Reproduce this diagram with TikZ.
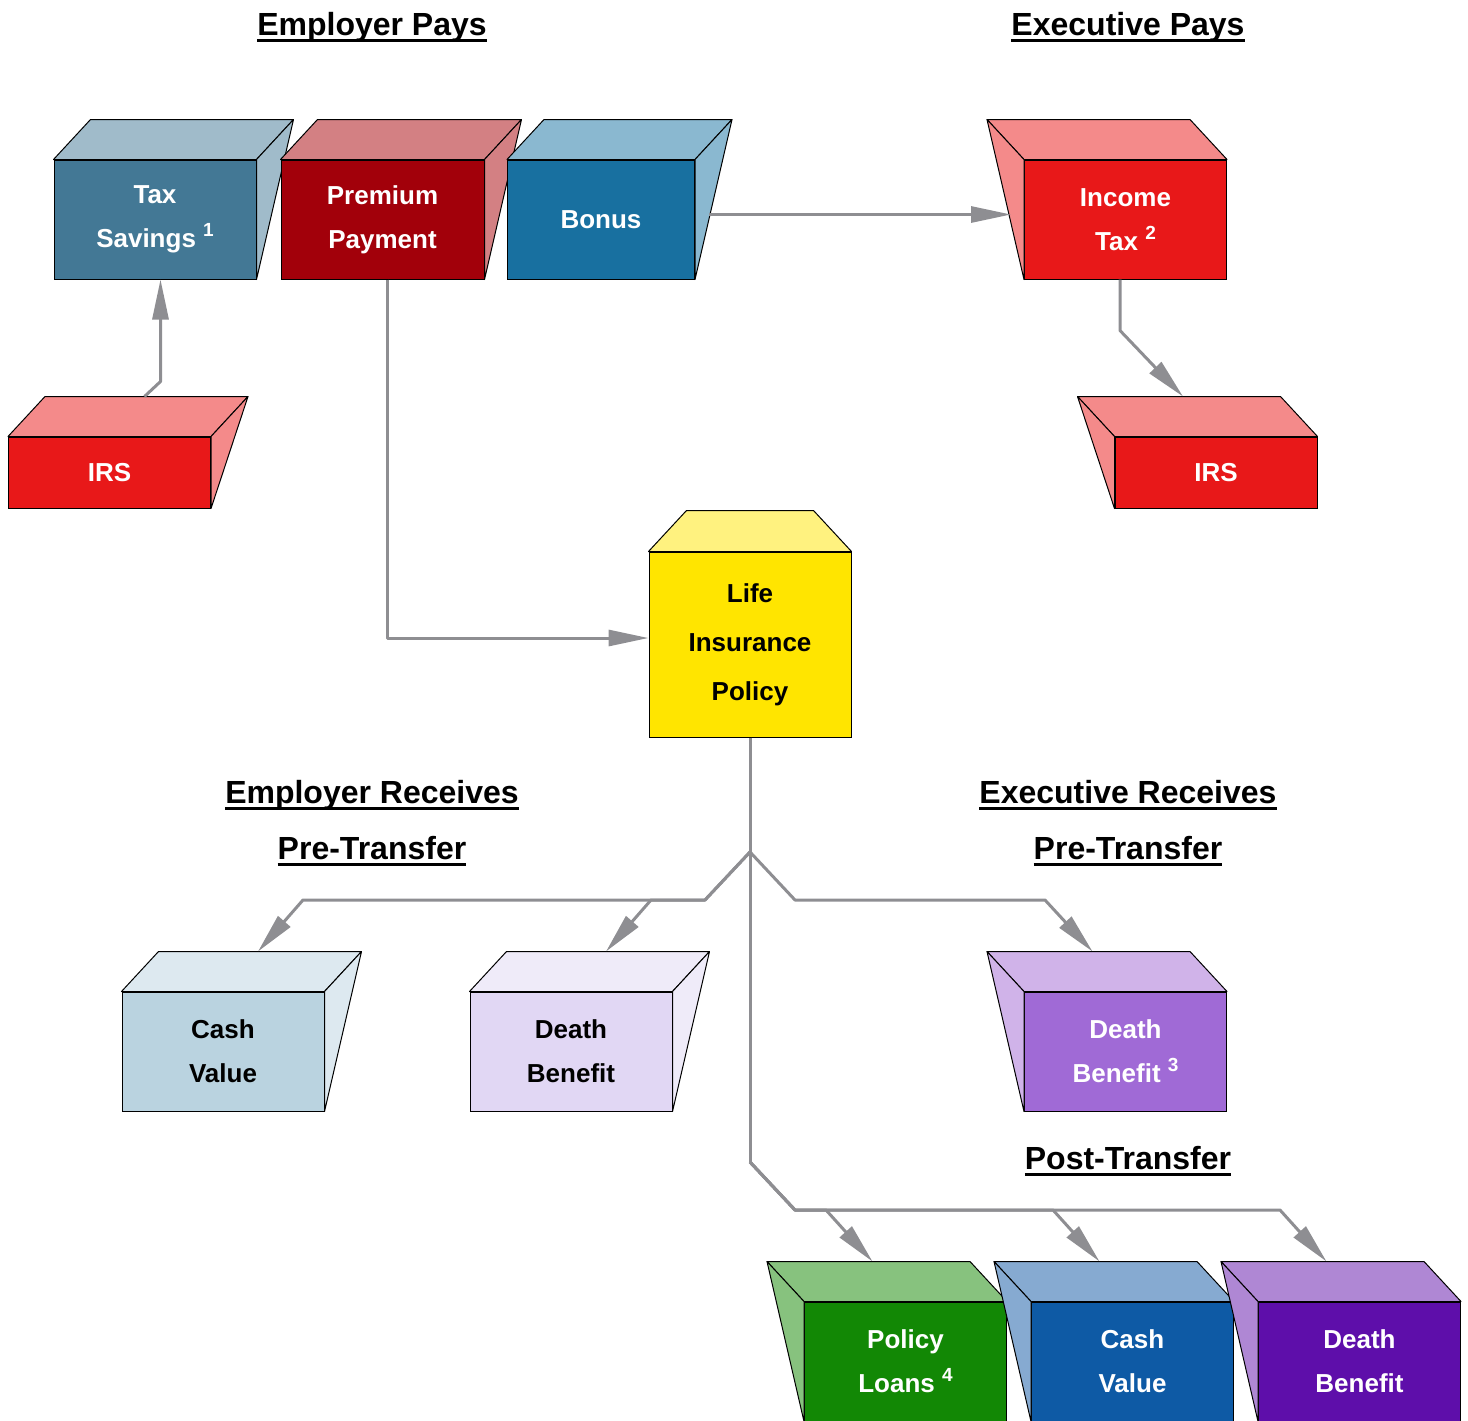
\documentclass[tikz,border=0pt]{standalone}
\usepackage{fontspec}
\setmainfont{Liberation Sans}
\usetikzlibrary{calc, arrows.meta}

\definecolor{linkgray}{HTML}{8E8E92}
\definecolor{tax}{HTML}{437895}   \definecolor{taxtop}{HTML}{A0BBCA}
\definecolor{prem}{HTML}{A2000A}  \definecolor{premtop}{HTML}{D38083}
\definecolor{bonus}{HTML}{1870A0} \definecolor{bonustop}{HTML}{8AB8D0}
\definecolor{irs}{HTML}{E81819}   \definecolor{irstop}{HTML}{F48A8A}
\definecolor{life}{HTML}{FFE500}  \definecolor{lifetop}{HTML}{FFF27F}
\definecolor{cvpre}{HTML}{BAD3E0} \definecolor{cvpretop}{HTML}{DDE9F0}
\definecolor{dbpre}{HTML}{E1D7F4} \definecolor{dbpretop}{HTML}{EFEBF9}
\definecolor{dbexe}{HTML}{A06AD6} \definecolor{dbexetop}{HTML}{D0B3E9}
\definecolor{loan}{HTML}{128805}  \definecolor{loantop}{HTML}{87C27E}
\definecolor{cvpost}{HTML}{0E5AA5} \definecolor{cvposttop}{HTML}{86AAD1}
\definecolor{dbpost}{HTML}{5E0EAA} \definecolor{dbposttop}{HTML}{AF87D4}

\newsavebox\ulbox
\newcommand{\uln}[1]{\sbox\ulbox{#1}\rlap{\rule[-3.2pt]{\wd\ulbox}{1.4pt}}\usebox\ulbox}
\newcommand{\note}[1]{\ \raisebox{5.5pt}{\fontsize{9.5}{9.5}\selectfont #1}}

% block with its depth to the right
\newcommand{\blockR}[5][]{%
  \node[block, fill=#4, #1] (#2) at (#3) {#5};
  \filldraw[face, fill=#4top] (#2.north west) -- ++(37,-40) -- ($(#2.north east)+(37,-40)$) -- (#2.north east) -- cycle;
  \filldraw[face, fill=#4top] (#2.north east) -- ++(37,-40) -- (#2.south east) -- cycle;
  \coordinate (#2-t) at ($(#2.north)+(35,-40)$);
}
% block with its depth to the left
\newcommand{\blockL}[5][]{%
  \node[block, fill=#4, #1] (#2) at (#3) {#5};
  \filldraw[face, fill=#4top] (#2.north west) -- ++(-37,-40) -- ($(#2.north east)+(-37,-40)$) -- (#2.north east) -- cycle;
  \filldraw[face, fill=#4top] (#2.north west) -- ++(-37,-40) -- (#2.south west) -- cycle;
  \coordinate (#2-t) at ($(#2.north)+(-33,-40)$);
}

\tikzset{
  block/.style={draw, line width=0.5pt, minimum width=101pt, minimum height=59.5pt,
    inner sep=0pt, align=center, text=white, font=\fontsize{13}{22}\selectfont\bfseries},
  face/.style={draw=black, line width=0.5pt, line join=round},
  head/.style={align=center, font=\fontsize{16}{28}\selectfont\bfseries},
  link/.style={draw=linkgray, line width=1.5pt, line join=round},
  arr/.style={link, -{Triangle[length=20pt, width=8pt]}},
}

\begin{document}
\begin{tikzpicture}[x=0.5pt, y=-0.5pt]
  \useasboundingbox (0,0) rectangle (1468,1420);

  % headings
  \node[head] (empPays) at (372,27) {\uln{Employer Pays}};
  \node[head] (exePays) at (1128,27) {\uln{Executive Pays}};
  \node[head] (empRec) at (372,823) {\uln{Employer Receives}\\\uln{Pre-Transfer}};
  \node[head] (exeRec) at (1128,823) {\uln{Executive Receives}\\\uln{Pre-Transfer}};
  \node[head] (post) at (1128,1161) {\uln{Post-Transfer}};

  % top row
  \blockR{taxsav}{155,219.5}{tax}{Tax\\Savings\note{1}}
  \blockR[minimum width=101.5pt]{premium}{382.5,219.5}{prem}{Premium\\Payment}
  \blockR[minimum width=93.5pt]{bonus}{601,219.5}{bonus}{Bonus}
  \blockL{inctax}{1125.5,219.5}{irs}{Income\\Tax\note{2}}
  \blockR[minimum height=35.5pt]{irsL}{109.5,472.5}{irs}{IRS}
  \blockL[minimum height=35.5pt]{irsR}{1216,472.5}{irs}{IRS}

  % policy
  \node[block, fill=life, text=black, minimum height=92.5pt,
        font=\fontsize{13}{24.5}\selectfont\bfseries] (policy) at (750,644.5) {Life\\Insurance\\Policy};
  \filldraw[face, fill=lifetop] (policy.north west) -- ++(38,-41) -- ($(policy.north east)+(-38,-41)$) -- (policy.north east) -- cycle;

  % receives
  \blockR[text=black]{cvA}{223,1051.5}{cvpre}{Cash\\Value}
  \blockR[text=black]{dbA}{571,1051.5}{dbpre}{Death\\Benefit}
  \blockL{dbB}{1125.5,1051.5}{dbexe}{Death\\Benefit\note{3}}
  \blockL{loans}{905.5,1361.5}{loan}{Policy\\Loans\note{4}}
  \blockL{cvB}{1132.5,1361.5}{cvpost}{Cash\\Value}
  \blockL{dbC}{1359.5,1361.5}{dbpost}{Death\\Benefit}

  % connectors
  \coordinate (fork) at (750,852);
  \coordinate (fork2) at (750,1162);
  \draw[arr] (irsL-t) -- ++(16,-15) coordinate (k1) -- (k1 |- taxsav.south);
  \draw[arr] ([xshift=2.25pt]premium.south) |- ([yshift=3.25pt]policy.west);
  \draw[arr] ([shift={(14,-5)}]bonus.east) -- ([shift={(-13,-5)}]inctax.west);
  \draw[arr] ([xshift=-2.75pt]inctax.south) -- ++(0,51) -- (irsR-t);
  \draw[link] (policy.south) -- (fork) -- (fork2);
  \draw[arr] (fork) -- ++(-45,48) -- (303,900) -- (cvA-t);
  \draw[arr] (fork) -- ++(-45,48) -- (651,900) -- (dbA-t);
  \draw[arr] (fork) -- ++(45,48) -- (1045,900) -- (dbB-t);
  \draw[arr] (fork2) -- ++(45,48) -- (826,1210) -- (loans-t);
  \draw[arr] (fork2) -- ++(45,48) -- (1053,1210) -- (cvB-t);
  \draw[arr] (fork2) -- ++(45,48) -- (1280,1210) -- (dbC-t);
\end{tikzpicture}
\end{document}
